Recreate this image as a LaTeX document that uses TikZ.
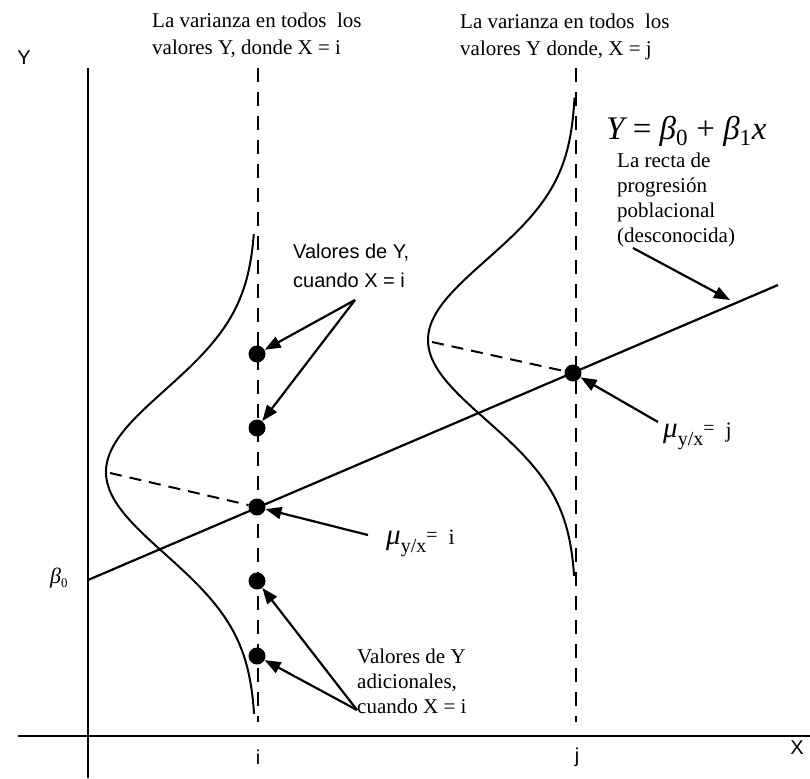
\documentclass[tikz,border=0pt]{standalone}
\usepackage{fontspec}
\setmainfont{Liberation Serif}
\setsansfont{Liberation Sans}
\usetikzlibrary{arrows.meta}
\begin{document}
\begin{tikzpicture}[x=1pt,y=-1pt,
  axisline/.style={line width=2.4pt},
  guide/.style={line width=2.2pt,dash pattern=on 14pt off 10pt},
  meanline/.style={line width=2pt,dash pattern=on 12pt off 8pt},
  bell/.style={line width=2pt},
  dot/.style={circle,fill=black,inner sep=0pt,minimum size=17pt},
  arr/.style={line width=2.2pt,-{Triangle[length=16pt,width=12pt]}},
  serif/.style={font=\fontsize{21}{25}\selectfont,align=left,inner sep=0pt},
  sans/.style={font=\sffamily\fontsize{20}{29}\selectfont,align=left,inner sep=0pt},
]
\useasboundingbox (0,0) rectangle (810,778);

% axes
\draw[axisline] (88,68) -- (88,778);
\draw[axisline] (18,736) -- (810,736);
\node[sans] (ylab) at (24,58) {Y};
\node[sans] (xlab) at (797,748) {X};
\node[sans] (ilab) at (258,757) {i};
\node[sans] (jlab) at (577,757) {j};

% guide lines
\draw[guide] (258,68) -- (258,722);
\draw[guide] (576,68) -- (576,722);

% regression line
\coordinate (b0) at (88,580);
\coordinate (rend) at (778,285);
\draw[line width=2.2pt] (b0) -- (rend);

% bell curves
\draw[bell] plot[domain=-2.9:2.95,samples=80,smooth] ({256-150*exp(-\x*\x/2)},{472+82*\x});
\draw[bell] plot[domain=-3.03:2.95,samples=80,smooth] ({576-148*exp(-\x*\x/2)},{340+80*\x});

% dots
\node[dot] (d1) at (257,354) {};
\node[dot] (d2) at (257,428) {};
\node[dot] (d3) at (257,507) {};
\node[dot] (d4) at (257,581) {};
\node[dot] (d5) at (257,656) {};
\node[dot] (dj) at (573,373) {};

% mean dashed lines
\coordinate (pki) at (110,473);
\coordinate (pkj) at (432,342);
\draw[meanline] (pki) -- (d3);
\draw[meanline] (pkj) -- (dj);

% texts
\node[serif,anchor=north west,font=\fontsize{21}{27}\selectfont] (ti) at (152,13) {La varianza en todos\ \ los\\valores Y, donde X = i};
\node[serif,anchor=north west,font=\fontsize{21}{27}\selectfont] (tj) at (460,14) {La varianza en todos\ \ los\\valores Y donde, X = j};
\node[anchor=west,inner sep=0pt,font=\fontsize{33}{35}\selectfont] (eq) at (606,131)
  {\itshape Y\ \upshape=\ \itshape β\textsubscript{\upshape 0}\ \upshape+\ \itshape β\textsubscript{\upshape 1}x};
\node[serif,anchor=north west] (tr) at (617,153) {La recta de\\progresión\\poblacional\\(desconocida)};
\node[sans,anchor=north west] (tv) at (293,244) {Valores de Y,\\cuando X = i};
\node[serif,anchor=north west] (ta) at (357,649) {Valores de Y\\adicionales,\\cuando X = i};
\node[anchor=west,inner sep=0pt] (mui) at (386,543)
  {{\fontsize{29}{29}\selectfont\itshape μ}\raisebox{-8pt}{\fontsize{20}{20}\selectfont y/x}\raisebox{3pt}{\fontsize{20}{20}\selectfont=}{\fontsize{22}{22}\selectfont\ \ i}};
\node[anchor=west,inner sep=0pt] (muj) at (663,436)
  {{\fontsize{29}{29}\selectfont\itshape μ}\raisebox{-8pt}{\fontsize{20}{20}\selectfont y/x}\raisebox{3pt}{\fontsize{20}{20}\selectfont=}{\fontsize{22}{22}\selectfont\ \ j}};
\node[anchor=west,inner sep=0pt] (beta0) at (50,578)
  {{\fontsize{22}{22}\selectfont\itshape β}\raisebox{-4pt}{\fontsize{13}{13}\selectfont 0}};

% arrows
\coordinate (sv) at (355,300);
\coordinate (sa) at (357,710);
\coordinate (smi) at (368,535);
\coordinate (smj) at (658,422);
\coordinate (sr) at (633,248);
\coordinate (tr1) at (730,300);
\draw[arr] (sv) -- (d1);
\draw[arr] (sv) -- (d2);
\draw[arr] (smi) -- (d3);
\draw[arr] (sa) -- (d4);
\draw[arr] (sa) -- (d5);
\draw[arr] (smj) -- (dj);
\draw[arr] (sr) -- (tr1);
\end{tikzpicture}
\end{document}
